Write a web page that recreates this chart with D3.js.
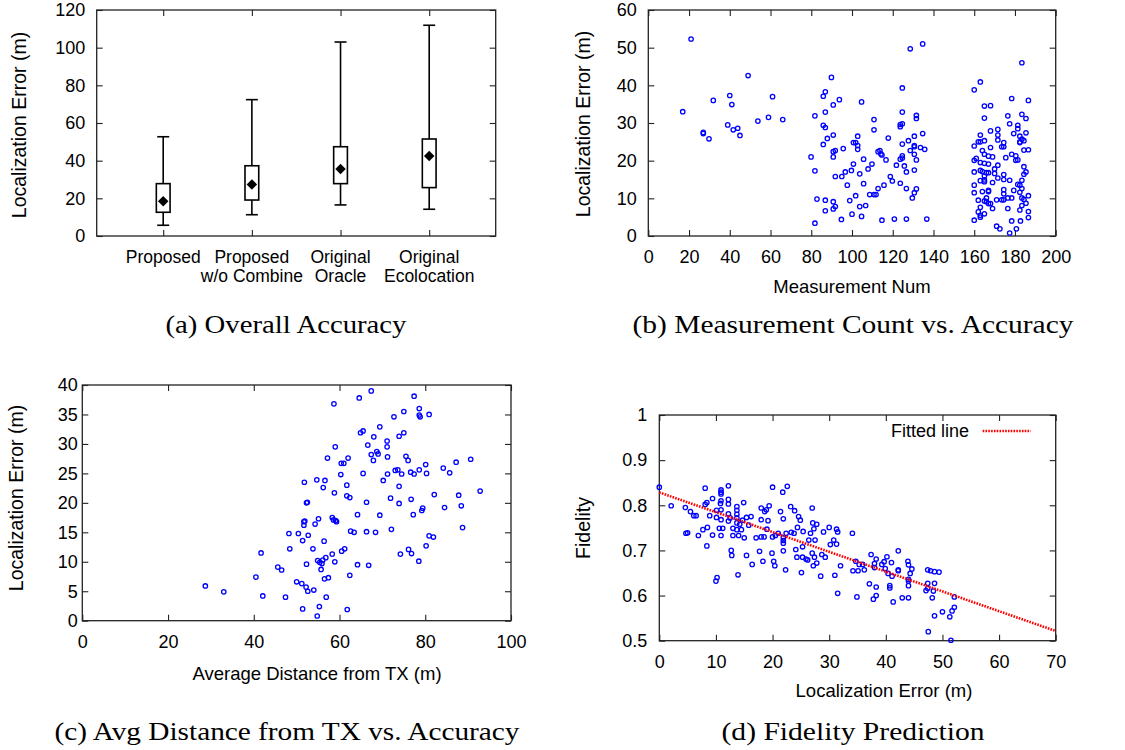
<!DOCTYPE html>
<html>
<head>
<meta charset="utf-8">
<script src="https://cdn.jsdelivr.net/npm/d3@7"></script>
<style>
body { margin: 0; background: #fff; }
svg text { font-family: "Liberation Sans", Arial, sans-serif; fill: #000; }
svg text.cap { font-family: "Liberation Serif", "Times New Roman", serif; }
</style>
</head>
<body>
<svg id="fig" width="1125" height="750"></svg>
<script>
// (a) overall accuracy, box plot values (m)
var boxNames = [["Proposed"], ["Proposed", "w/o Combine"], ["Original", "Oracle"], ["Original", "Ecolocation"]];
var boxMin  = [5.7, 11.3, 16.5, 14.2];
var boxQ1   = [12.6, 19.1, 27.8, 25.7];
var boxMean = [18.4, 27.4, 35.6, 42.5];
var boxQ3   = [27.8, 37.3, 47.4, 51.5];
var boxMax  = [52.7, 72.4, 103, 111.9];

// (b) measurement num vs localization error
var countPts = [
[16.9,33.0],[21,52.3],[27,27.5],[27,27.2],[29.8,25.8],[31.9,36],[39,29.5],[40,37.3],[41,34.9],[41.7,28.2],[43.9,28.6],[45,26.7],[49,42.6],[53.8,30.5],[59,31.5],[61,37],[66,30.9],
[79.9,21],[81.8,17.3],[81.8,31.9],[81.8,3.4],[82.8,9.8],[85.9,37.1],[85.9,29.4],[85.9,24.3],[86.9,38.3],[86.9,32.9],[86.9,28.8],[86.9,9.5],[86.9,6.7],[87.9,25.9],[89.9,42.1],
[90.8,34.8],[90.8,26.8],[90.8,22.4],[90.8,21],[90.8,9.1],[90.8,7.2],[91.8,22.7],[91.8,15.8],[91.8,7.8],[93.8,36.2],[94.8,4.4],[95.7,23.2],[95,15.8],[96.7,17],[97.7,13.5],
[98.9,9.4],[99.7,17.4],[100,5.8],[100.7,19.1],[100.7,24.8],[101.8,10.7],[101.8,24.8],[102.8,26.5],[102.8,23],[102.8,24],[103.8,16.5],[103.8,7.8],[104.7,35.6],[104.7,5.2],
[105.7,20.4],[105.7,13.9],[106.7,8.1],[107.9,17.8],[108.7,11],[109.8,19.1],[110.8,30.9],[110.8,28.2],[110.8,11],[111.8,11],[112.8,12.6],[112.8,22.4],[113.7,22.7],[114.2,21.8],
[114.7,4.2],[114.7,21.5],[115.7,13.5],[116.7,20.2],[117.8,26],[118.8,15.8],[119.8,14.6],[120.8,4.5],[121.8,18.8],[123.7,14],[123.7,29],[123.7,29.6],[123.7,20.4],[124.7,39.3],
[124.7,32.9],[124.7,29.8],[124.7,24.4],[124.7,21.3],[124.7,20.7],[125.7,18.6],[126.7,12.6],[126.7,17],[126.7,4.5],[127.7,25.3],[128.6,49.7],[128.6,22.7],[129.6,10.1],
[130.6,26.5],[130.6,23.7],[130.6,24],[130.6,21.7],[130.6,17.5],[130.6,11.5],[131.6,32],[131.6,31.2],[131.6,20.2],[131.6,12.5],[133.6,23.5],[134.7,51],[134.7,27.2],[135.7,23],[136.7,4.5],
[160,38.8],[160,23.9],[160,20.1],[160,17],[160,13.5],[160,11.5],[160,4.2],[161,20.6],[162,25],[162,9.5],[162,6.4],[163,40.9],[163,25],[163,26.8],[163,19.5],[163,17.4],[163,14.7],
[163,7.6],[163,5.5],[163,5],[164,22.7],[164,17.1],[164,11.8],[165,34.5],[165,31.3],[165,25.3],[165,21.7],[165,19.3],[165,15.9],[165,14.9],[165,14.4],[165,9.3],[165,5.9],
[166,16.8],[166,10.1],[166,9.1],[167,21.2],[167,19.1],[167,16.8],[167,12.1],[167,11.8],[167,8.6],[168,34.6],[168,27.9],[168,23.5],[168,8.6],[169,21],[169,14.2],[169,7.3],
[170,17.8],[170,16.6],[171,9.6],[171,2.6],[171.6,28.3],[171.6,26.8],[171.6,25.5],[171.6,18.8],[171.6,15.4],[172.6,1.9],[173.5,23.7],[173.5,9.6],[174.5,24.8],[174.5,23.7],
[174.5,16.3],[174.5,15],[174.5,12.3],[174.5,11.2],[174.5,9.6],[175.5,20.8],[176.5,31.9],[176.5,10.1],[176.5,7.3],[177.4,29.8],[177.4,14.8],[177.4,0.8],[178.4,36.5],[178.4,21.7],
[178.4,10.1],[178.4,4],[179.4,27.2],[179.4,12.1],[180.4,21.3],[180.4,20.1],[180.7,1.9],[181.4,29.4],[181.4,28.5],[181.4,20.2],[181.4,13.7],[182.4,26.5],[182.4,25],[182.4,24.8],
[182.4,11.6],[182.4,6.9],[182.7,4],[183.4,46],[183.4,32.3],[183.4,25.7],[183.4,14.8],[183.4,10.1],[183.4,8.1],[184.4,25.3],[184.4,22.8],[184.4,18.4],[184.4,16.4],[184.4,9.7],
[185.4,31.2],[185.4,27.4],[185.4,17],[185.4,8.7],[186.6,36],[186.6,22.9],[186.6,10.7],[186.6,6.5],[186.6,4.9],[183.4,12.6],[182.4,13.5]
];

// (c) average distance from TX vs localization error
var distPts = [
[28.7,5.9],[33,4.9],[40.5,7.4],[41.7,11.5],[42.1,4.2],[45.6,9.1],[46.5,8.6],[47.4,4],[48.2,14.8],[48.4,12.2],[50,6.6],[50.4,14.8],[51.2,6.3],[51.4,13.6],[51.4,2],
[51.7,16.8],[51.7,16.2],[51.8,23.5],[51.9,16.9],[52.2,5.7],[52.3,20],[52.3,9.6],[52.5,20.1],[52.6,5],[52.7,14.5],[53.8,12.2],[54,5.2],[54.3,16.4],[54.7,23.9],[54.8,0.8],
[54.9,10.2],[55.1,17.3],[55.3,2.4],[55.4,9.9],[55.7,8.7],[55.9,9.7],[56.1,10.3],[56.2,22.6],[56.4,13.5],[56.5,7.1],[56.6,23.8],[56.8,10.7],[56.9,4],[57.2,27.6],[57.4,7.3],
[58.3,11.3],[58.3,17.5],[58.6,17.1],[58.7,36.8],[58.8,21.7],[58.9,10],[59.1,17],[59,29.5],[59.3,16.8],[60.3,24.8],[60.4,26.7],[60.5,11.8],[61,26.7],[61.2,12.2],[61.7,21.2],
[61.7,23],[61.8,1.9],[62,27.6],[62.4,20.9],[62.4,7.7],[62.6,15.2],[63.4,15],[64.2,18],[64.2,9.5],[64.6,37.8],[64.9,31.9],[65.5,32.2],[65.5,25],[66.3,20.1],[66.3,15.1],
[66.6,29.8],[66.8,9.4],[67.4,39],[67.4,28.2],[67.9,27.2],[68,31.2],[68.4,15],[68.7,28.7],[69,28.3],[69.4,17.9],[69.4,32.9],[70.2,23.8],[71.1,29.5],[71.1,30.5],[71.2,27.8],
[71.2,24.9],[71.9,20.8],[72.1,15.5],[72.7,34.6],[73,25.5],[73.6,25.6],[73.9,31.3],[73.9,19.9],[73.9,22.8],[74.2,11.3],[74.5,24.9],[75,31.9],[75,35.5],[75.5,27.9],[76,27.2],
[76.1,12.1],[76.6,25.2],[76.7,20.6],[76.8,11.4],[77.2,18],[77.4,24.9],[77.4,38.1],[78.5,10.1],[78.6,25.6],[78.6,36],[78.6,34.9],[78.8,34.6],[79.2,18.7],[79.4,19.1],[80.1,26.5],
[80.2,12.7],[80.3,25],[80.9,35],[80.9,14.4],[81.9,14.2],[82.1,21.4],[84.2,25.9],[84.5,19.2],[85.7,25.1],[87.2,26.9],[87.8,21.3],[88.4,19.5],[88.7,15.8],[90.6,27.4],[92.8,22]
];

// (d) localization error vs fidelity
var fidPts = [
[0,0.84],[2.1,0.799],[4.6,0.795],[4.7,0.738],[5,0.739],[5.5,0.786],[6.1,0.777],[6.5,0.777],[6.9,0.733],[7.7,0.746],[8.1,0.838],[8.1,0.802],[8.4,0.806],[8.4,0.71],[8.5,0.751],
[8.9,0.777],[9.4,0.815],[9.4,0.734],[10,0.632],[10.2,0.64],[10.1,0.789],[10.1,0.773],[10.6,0.749],[10.8,0.804],[10.9,0.834],[10.9,0.829],[10.9,0.825],[10.9,0.81],[10.9,0.79],
[10.9,0.768],[10.9,0.733],[11.2,0.749],[12.2,0.843],[12.2,0.813],[12.2,0.803],[12.2,0.781],[12.2,0.765],[12.5,0.772],[12.7,0.7],[12.8,0.689],[13,0.749],[13,0.733],[13.7,0.797],
[13.7,0.789],[13.7,0.78],[13.7,0.772],[13.7,0.761],[13.7,0.746],[13.9,0.646],[14,0.733],[14.2,0.758],[14.5,0.746],[14.7,0.767],[14.9,0.806],[15,0.728],[15.4,0.689],[15.4,0.773],
[15.8,0.756],[16.2,0.775],[16.4,0.669],[17.1,0.728],[17.7,0.698],[18,0.768],[18,0.794],[18,0.73],[18.3,0.676],[18.5,0.73],[18.6,0.786],[18.9,0.79],[19,0.747],[19.2,0.766],
[19.4,0.799],[19.9,0.694],[20,0.84],[20,0.73],[20.2,0.676],[20.4,0.666],[20.5,0.733],[21,0.738],[21.4,0.786],[21.8,0.829],[21.9,0.77],[21.9,0.728],[21.9,0.722],[21.9,0.716],
[21.9,0.699],[22.3,0.657],[22.4,0.738],[22.6,0.842],[23.2,0.797],[23.3,0.74],[23.8,0.738],[23.9,0.788],[24.1,0.702],[24.3,0.685],[24.4,0.751],[24.6,0.775],[24.9,0.767],
[25.1,0.651],[25.3,0.708],[25.4,0.742],[25.3,0.685],[25.9,0.681],[26.2,0.679],[26.4,0.723],[26.7,0.738],[27,0.794],[27,0.694],[27.1,0.761],[27.2,0.666],[27.3,0.748],[27.4,0.685],
[27.5,0.723],[27.8,0.672],[27.8,0.758],[28.5,0.643],[28.7,0.691],[29,0.741],[29.3,0.685],[30,0.751],[30.2,0.713],[30.8,0.723],[31,0.645],[31.3,0.747],[31.3,0.714],[31.5,0.741],
[31.5,0.605],[32,0.666],[34.1,0.738],[34.2,0.655],[34.7,0.676],[34.9,0.597],[35.1,0.655],[35.3,0.669],[35.9,0.669],[36.2,0.657],[37.1,0.626],[37.4,0.691],[37.8,0.592],[38,0.671],
[38,0.662],[38.3,0.681],[38.3,0.619],[38.3,0.6],[39.3,0.669],[39.7,0.675],[39.9,0.66],[40.2,0.686],[40.4,0.649],[40.7,0.622],[40.7,0.617],[41,0.673],[41.1,0.643],[41.3,0.586],
[42.2,0.699],[42.2,0.657],[42.2,0.655],[42.9,0.595],[43.9,0.676],[44,0.668],[44,0.636],[44,0.632],[44,0.622],[44,0.595],[44.3,0.649],[44.6,0.659],[47.1,0.611],[47.4,0.657],
[47.4,0.627],[47.4,0.616],[47.5,0.52],[47.9,0.655],[48.2,0.595],[48.4,0.61],[48.6,0.555],[48.6,0.653],[48.6,0.627],[49.4,0.652],[50,0.564],[51.3,0.553],[51.5,0.501],[51.7,0.566],
[52.1,0.574],[52.1,0.597]
];
var fitLine = [[0, 0.8285], [70, 0.5215]];

var captions = ["(a) Overall Accuracy", "(b) Measurement Count vs. Accuracy", "(c) Avg Distance from TX vs. Accuracy", "(d) Fidelity Prediction"];

var svg = d3.select("#fig");
var FONT = "Liberation Sans, Arial, sans-serif";

// frame with inward ticks on all four sides, gnuplot style
function frame(x, y, xt, yt, xfmt, yfmt, ypad) {
	var g = svg.append("g");
	var x0 = x.range()[0], x1 = x.range()[1], y0 = y.range()[0], y1 = y.range()[1];
	g.append("g").attr("transform", "translate(0," + y0 + ")")
		.call(d3.axisBottom(x).tickValues(xt).tickSizeInner(-6).tickSizeOuter(0).tickPadding(14.5).tickFormat(xfmt));
	g.append("g").attr("transform", "translate(0," + y1 + ")")
		.call(d3.axisTop(x).tickValues(xt).tickSizeInner(-6).tickSizeOuter(0).tickFormat(""));
	g.append("g").attr("transform", "translate(" + x0 + ",0)")
		.call(d3.axisLeft(y).tickValues(yt).tickSizeInner(-6).tickSizeOuter(0).tickPadding(ypad).tickFormat(yfmt));
	g.append("g").attr("transform", "translate(" + x1 + ",0)")
		.call(d3.axisRight(y).tickValues(yt).tickSizeInner(-6).tickSizeOuter(0).tickFormat(""));
	g.selectAll(".domain").remove();
	g.selectAll(".tick line").attr("stroke", "#222").attr("stroke-width", 1.1);
	g.selectAll("g").attr("font-size", 18).attr("font-family", FONT);
	g.append("rect").attr("x", x0).attr("y", y1).attr("width", x1 - x0).attr("height", y0 - y1)
		.attr("fill", "none").attr("stroke", "#222").attr("stroke-width", 1.3);
	return g;
}

function ylabel(txt, cx, cy) {
	svg.append("text").attr("transform", "translate(" + cx + "," + cy + ") rotate(-90)")
		.attr("text-anchor", "middle").attr("dy", "0.35em").attr("font-size", 19.5).text(txt);
}
function xlabel(txt, cx, cy) {
	svg.append("text").attr("x", cx).attr("y", cy).attr("text-anchor", "middle")
		.attr("dy", "0.35em").attr("font-size", 18.5).text(txt);
}
function scatter(data, x, y) {
	svg.append("g").selectAll("circle").data(data).enter().append("circle")
		.attr("cx", function(d) { return x(d[0]); })
		.attr("cy", function(d) { return y(d[1]); })
		.attr("r", 2.2).attr("fill", "none").attr("stroke", "#0000ff").attr("stroke-width", 1.3);
}

// ---- (a) ----
var xa = d3.scaleLinear().domain([0.25, 4.75]).range([96.7, 495.7]);
var ya = d3.scaleLinear().domain([0, 120]).range([236, 10]);
var ga = frame(xa, ya, [1, 2, 3, 4], d3.range(0, 121, 20), "", d3.format("d"), 11.5);
ga.select("g").selectAll(".tick text").remove();
var idx = d3.range(boxNames.length);
var bw = 0.155, cw = 0.135;
var bx = svg.append("g").attr("stroke", "#000").attr("stroke-width", 1.6).attr("fill", "none");
idx.forEach(function(i) {
	var c = i + 1;
	bx.append("line").attr("x1", xa(c)).attr("x2", xa(c)).attr("y1", ya(boxMin[i])).attr("y2", ya(boxQ1[i]));
	bx.append("line").attr("x1", xa(c)).attr("x2", xa(c)).attr("y1", ya(boxQ3[i])).attr("y2", ya(boxMax[i]));
	bx.append("line").attr("x1", xa(c - cw / 2)).attr("x2", xa(c + cw / 2)).attr("y1", ya(boxMin[i])).attr("y2", ya(boxMin[i]));
	bx.append("line").attr("x1", xa(c - cw / 2)).attr("x2", xa(c + cw / 2)).attr("y1", ya(boxMax[i])).attr("y2", ya(boxMax[i]));
	bx.append("rect").attr("x", xa(c - bw / 2)).attr("width", xa(c + bw / 2) - xa(c - bw / 2))
		.attr("y", ya(boxQ3[i])).attr("height", ya(boxQ1[i]) - ya(boxQ3[i]));
	svg.append("path").attr("d", d3.symbol(d3.symbolDiamond2, 70)())
		.attr("transform", "translate(" + xa(c) + "," + ya(boxMean[i]) + ")").attr("fill", "#000");
	var t = svg.append("text").attr("x", xa(c)).attr("y", 262.5).attr("text-anchor", "middle").attr("font-size", 17.5);
	boxNames[i].forEach(function(s, k) {
		t.append("tspan").attr("x", xa(c)).attr("dy", k ? 19.5 : 0).text(s);
	});
});
ylabel("Localization Error (m)", 19, 125);

// ---- (b) ----
var xb = d3.scaleLinear().domain([0, 200]).range([648.3, 1055.7]);
var yb = d3.scaleLinear().domain([0, 60]).range([236, 10]);
frame(xb, yb, d3.range(0, 201, 20), d3.range(0, 61, 10), d3.format("d"), d3.format("d"), 11.5);
scatter(countPts, xb, yb);
ylabel("Localization Error (m)", 583, 124);
xlabel("Measurement Num", 852, 287);

// ---- (c) ----
var xc = d3.scaleLinear().domain([0, 100]).range([82.3, 511]);
var yc = d3.scaleLinear().domain([0, 40]).range([620.7, 385]);
frame(xc, yc, d3.range(0, 101, 20), d3.range(0, 41, 5), d3.format("d"), d3.format("d"), 4.5);
scatter(distPts, xc, yc);
ylabel("Localization Error (m)", 16, 498);
xlabel("Average Distance from TX (m)", 317, 674);

// ---- (d) ----
var xd = d3.scaleLinear().domain([0, 70]).range([659.3, 1055.7]);
var yd = d3.scaleLinear().domain([0.5, 1]).range([640.7, 415]);
frame(xd, yd, d3.range(0, 71, 10), [0.5, 0.6, 0.7, 0.8, 0.9, 1], d3.format("d"), d3.format("~g"), 12);
scatter(fidPts, xd, yd);
var fitPath = d3.line().x(function(d) { return xd(d[0]); }).y(function(d) { return yd(d[1]); });
svg.append("path").datum(fitLine).attr("d", fitPath)
	.attr("fill", "none").attr("stroke", "#ff0000").attr("stroke-width", 2.6).attr("stroke-dasharray", "1.6,1.2");
svg.append("text").attr("x", 969).attr("y", 431).attr("dy", "0.35em").attr("text-anchor", "end")
	.attr("font-size", 18).text("Fitted line");
svg.append("line").attr("x1", 982.7).attr("x2", 1030.7).attr("y1", 431).attr("y2", 431)
	.attr("stroke", "#ff0000").attr("stroke-width", 2.6).attr("stroke-dasharray", "1.6,1.2");
ylabel("Fidelity", 583, 528);
xlabel("Localization Error (m)", 884, 691);

// ---- captions ----
var capPos = [[286, 333, 241], [853, 333, 441], [287, 740, 465], [853, 740, 263]];
captions.forEach(function(c, i) {
	svg.append("text").attr("class", "cap").attr("x", capPos[i][0] - capPos[i][2] / 2).attr("y", capPos[i][1])
		.attr("font-size", 26).attr("textLength", capPos[i][2]).attr("lengthAdjust", "spacingAndGlyphs").text(c);
});
</script>
</body>
</html>
